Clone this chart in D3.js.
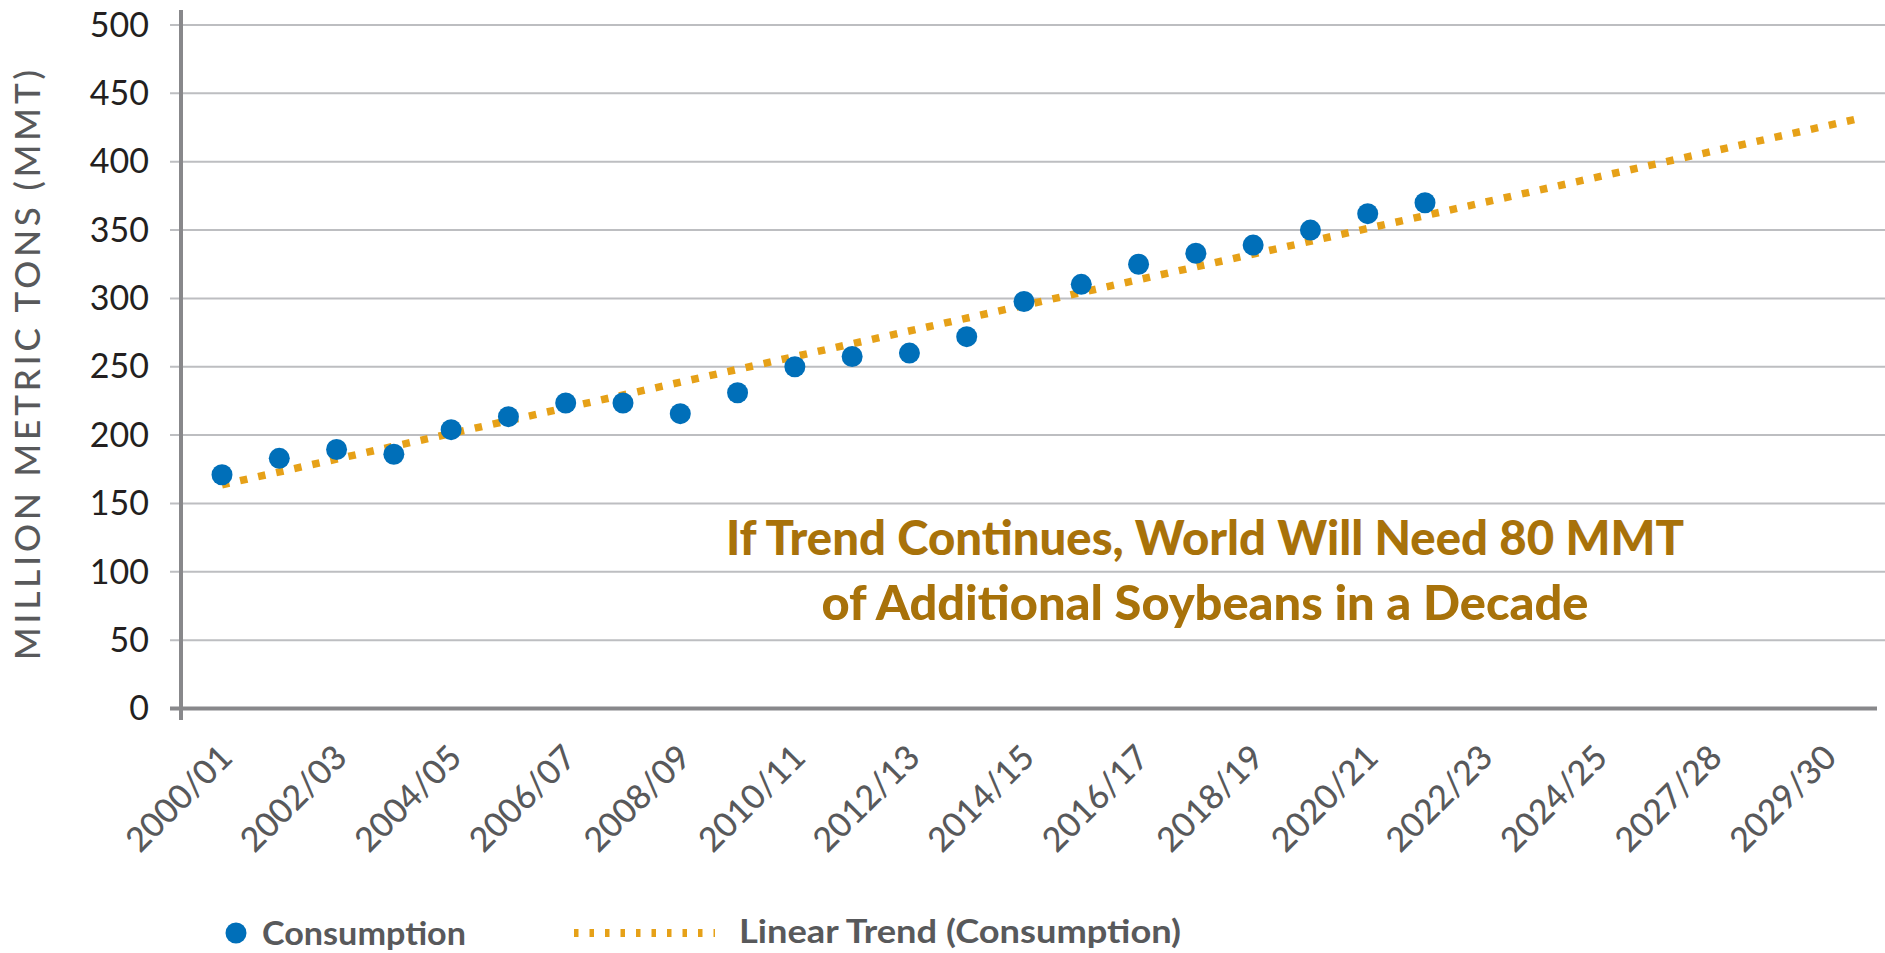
<!DOCTYPE html>
<html>
<head>
<meta charset="utf-8">
<script src="https://cdn.jsdelivr.net/npm/d3@7"></script>
<style>
  html, body { margin: 0; padding: 0; background: #ffffff; }
  svg { display: block; }
</style>
</head>
<body>
<svg id="chart" width="1885" height="953"></svg>
<script>
// ---------- data ----------
const categories = ["2000/01","2001/02","2002/03","2003/04","2004/05","2005/06","2006/07","2007/08",
  "2008/09","2009/10","2010/11","2011/12","2012/13","2013/14","2014/15","2015/16","2016/17",
  "2017/18","2018/19","2019/20","2020/21","2021/22"];
const consumption = [171, 183, 189.5, 186, 204, 213.5, 223.5, 223.5, 215.7, 231, 250, 257.5,
  260, 272, 297.7, 310.3, 325, 333, 339, 350, 362, 370];
const xTickLabels = ["2000/01","2002/03","2004/05","2006/07","2008/09","2010/11","2012/13",
  "2014/15","2016/17","2018/19","2020/21","2022/23","2024/25","2027/28","2029/30"];
const yTickValues = [0, 50, 100, 150, 200, 250, 300, 350, 400, 450, 500];
const trendIndex = [0, 28.6];
const trendValues = [163.7, 431.8];
const yAxisTitle = "MILLION METRIC TONS (MMT)";
const annotationLines = ["If Trend Continues, World Will Need 80 MMT", "of Additional Soybeans in a Decade"];
const legendNames = ["Consumption", "Linear Trend (Consumption)"];

// ---------- setup ----------
const svg = d3.select("#chart");
const FONT = "Lato, 'Open Sans', sans-serif";
const dotColor = "#006fb9";
const trendColor = "#e6a118";

const x = d3.scaleLinear().domain([0, 28]).range([222, 1826]);
const y = d3.scaleLinear().domain([0, 500]).range([708.5, 25]);

// gridlines
svg.append("g").selectAll("line").data(yTickValues.filter(d => d > 0)).join("line")
  .attr("x1", 170).attr("x2", 1885)
  .attr("y1", d => y(d)).attr("y2", d => y(d))
  .attr("stroke", "#bdbec1").attr("stroke-width", 2);

// y tick labels
const yAxis = svg.append("g").attr("transform", "translate(149,0)")
  .call(d3.axisLeft(y).tickValues(yTickValues).tickSize(0).tickPadding(0));
yAxis.select(".domain").remove();
yAxis.selectAll("text")
  .attr("font-family", FONT).attr("font-size", 34).attr("fill", "#231f20")
  .attr("dy", "0.33em");

// axis lines
svg.append("line").attr("x1", 181).attr("x2", 181).attr("y1", 10).attr("y2", 720)
  .attr("stroke", "#88888b").attr("stroke-width", 4);
svg.append("line").attr("x1", 170).attr("x2", 1877).attr("y1", y(0)).attr("y2", y(0))
  .attr("stroke", "#88888b").attr("stroke-width", 4);

// x tick labels
const xAxis = svg.append("g").attr("transform", `translate(0,${y(0)})`)
  .call(d3.axisBottom(x)
    .tickValues(xTickLabels.map((d, i) => i * 2))
    .tickFormat((d, i) => xTickLabels[i])
    .tickSize(0));
xAxis.select(".domain").remove();
xAxis.selectAll("text")
  .attr("font-family", FONT).attr("font-size", 34).attr("font-weight", 500).attr("fill", "#58595b")
  .attr("x", 0).attr("y", 0).attr("dy", 0)
  .attr("text-anchor", "end")
  .attr("transform", "translate(12,51) rotate(-45)");

// y axis title
svg.append("text")
  .attr("transform", "translate(40,365) rotate(-90)")
  .attr("text-anchor", "middle")
  .attr("font-family", FONT).attr("font-size", 35).attr("font-weight", 500).attr("fill", "#58595b")
  .attr("textLength", 590).attr("lengthAdjust", "spacing")
  .text(yAxisTitle);

// trend line
const trendData = trendIndex.map((d, i) => ({ i: d, v: trendValues[i] }));
svg.append("path").datum(trendData)
  .attr("d", d3.line().x(d => x(d.i)).y(d => y(d.v)))
  .attr("fill", "none").attr("stroke", trendColor)
  .attr("stroke-width", 7.5).attr("stroke-dasharray", "7.5 11");

// dots
svg.append("g").selectAll("circle").data(consumption).join("circle")
  .attr("cx", (d, i) => x(i)).attr("cy", d => y(d)).attr("r", 10.5)
  .attr("fill", dotColor);

// annotation
const annWidths = [958, 767];
svg.append("g").selectAll("text").data(annotationLines).join("text")
  .attr("x", 1205).attr("y", (d, i) => 555 + i * 65)
  .attr("text-anchor", "middle")
  .attr("font-family", FONT).attr("font-weight", 900).attr("font-size", 48)
  .attr("fill", "#a8720a")
  .attr("textLength", (d, i) => annWidths[i]).attr("lengthAdjust", "spacingAndGlyphs")
  .text(d => d);

// legend
const legend = svg.append("g");
legend.append("circle").attr("cx", 236).attr("cy", 933).attr("r", 10.5).attr("fill", dotColor);
legend.append("text").attr("x", 262).attr("y", 945)
  .attr("font-family", FONT).attr("font-weight", 700).attr("font-size", 32).attr("fill", "#58595b")
  .attr("textLength", 204).attr("lengthAdjust", "spacingAndGlyphs")
  .text(legendNames[0]);
legend.append("line").attr("x1", 574).attr("x2", 715).attr("y1", 933).attr("y2", 933)
  .attr("stroke", trendColor).attr("stroke-width", 8).attr("stroke-dasharray", "4.5 11");
legend.append("text").attr("x", 739).attr("y", 943)
  .attr("font-family", FONT).attr("font-weight", 700).attr("font-size", 32).attr("fill", "#58595b")
  .attr("textLength", 442).attr("lengthAdjust", "spacingAndGlyphs")
  .text(legendNames[1]);
</script>
</body>
</html>
